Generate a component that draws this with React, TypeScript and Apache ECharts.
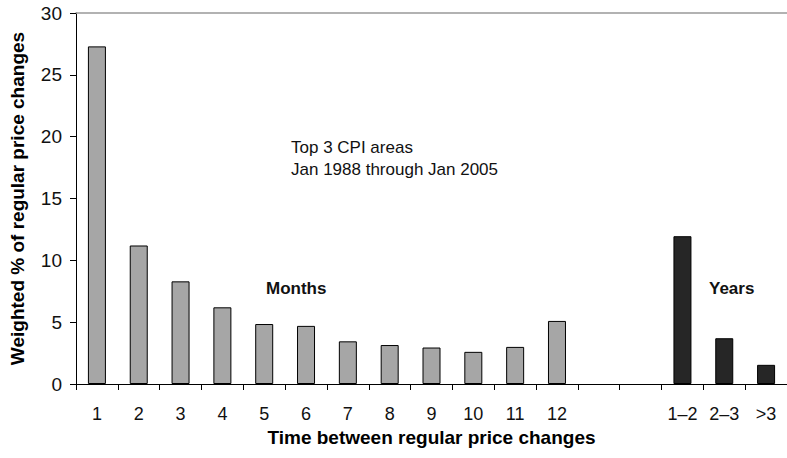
import React, { useEffect, useRef } from "react";
import * as echarts from "echarts";

const categories = ["1", "2", "3", "4", "5", "6", "7", "8", "9", "10", "11", "12", "", "", "1–2", "2–3", ">3"];
const monthValues = [27.3, 11.2, 8.3, 6.2, 4.85, 4.7, 3.45, 3.15, 2.95, 2.6, 3.0, 5.1, null, null, null, null, null];
const yearValues = [null, null, null, null, null, null, null, null, null, null, null, null, null, null, 11.95, 3.7, 1.55];
const yTicks = { min: 0, max: 30, interval: 5 };

const FONT = "'Liberation Sans', Arial, sans-serif";

export default function App() {
  const ref = useRef<HTMLDivElement>(null);
  useEffect(() => {
    if (!ref.current) return;
    const chart = echarts.init(ref.current, null, { renderer: "svg" });
    const data = categories.map((c, i) => {
      if (monthValues[i] != null) {
        return { value: monthValues[i], itemStyle: { color: "#a6a6a6", borderColor: "#000", borderWidth: 1 } };
      }
      if (yearValues[i] != null) {
        return { value: yearValues[i], itemStyle: { color: "#262626", borderColor: "#000", borderWidth: 1 } };
      }
      return { value: null };
    });
    chart.setOption({
      animation: false,
      textStyle: { fontFamily: FONT },
      grid: { left: 76, right: 0, top: 13, bottom: 74, containLabel: false },
      xAxis: [
        {
          type: "category",
          data: categories,
          position: "bottom",
          axisLine: { lineStyle: { color: "#000", width: 1 } },
          axisTick: { show: true, length: 6, alignWithLabel: false, lineStyle: { color: "#000" } },
          axisLabel: { fontSize: 18, color: "#111", margin: 21, fontFamily: FONT, interval: 0 },
          name: "Time between regular price changes",
          nameLocation: "middle",
          nameGap: 43,
          nameTextStyle: { fontSize: 19, fontWeight: "bold", color: "#000", fontFamily: FONT },
        },
        {
          type: "category",
          data: categories,
          position: "top",
          axisLine: { lineStyle: { color: "#999", width: 1.5 } },
          axisTick: { show: false },
          axisLabel: { show: false },
        },
      ],
      yAxis: {
        type: "value",
        min: yTicks.min,
        max: yTicks.max,
        interval: yTicks.interval,
        axisLine: { show: true, lineStyle: { color: "#000", width: 1 } },
        axisTick: { show: true, length: 6, lineStyle: { color: "#000" } },
        splitLine: { show: false },
        axisLabel: { fontSize: 19, color: "#111", margin: 14, fontFamily: FONT },
        name: "Weighted % of regular price changes",
        nameLocation: "middle",
        nameGap: 49,
        nameTextStyle: { fontSize: 19, fontWeight: "bold", color: "#000", fontFamily: FONT },
      },
      series: [
        {
          type: "bar",
          data,
          barWidth: 18,
          xAxisIndex: 0,
        },
      ],
      graphic: [
        {
          type: "text",
          left: 291,
          top: 136,
          style: {
            text: "Top 3 CPI areas\nJan 1988 through Jan 2005",
            font: `17px ${FONT}`,
            lineHeight: 22,
            fill: "#111",
          },
        },
        {
          type: "text",
          left: 266,
          top: 280,
          style: { text: "Months", font: `bold 17px ${FONT}`, fill: "#111" },
        },
        {
          type: "text",
          left: 709,
          top: 280,
          style: { text: "Years", font: `bold 17px ${FONT}`, fill: "#111" },
        },
      ],
    });
    return () => chart.dispose();
  }, []);
  return <div ref={ref} style={{ width: 787, height: 458, position: "absolute", left: 0, top: 0, background: "#fff" }} />;
}
